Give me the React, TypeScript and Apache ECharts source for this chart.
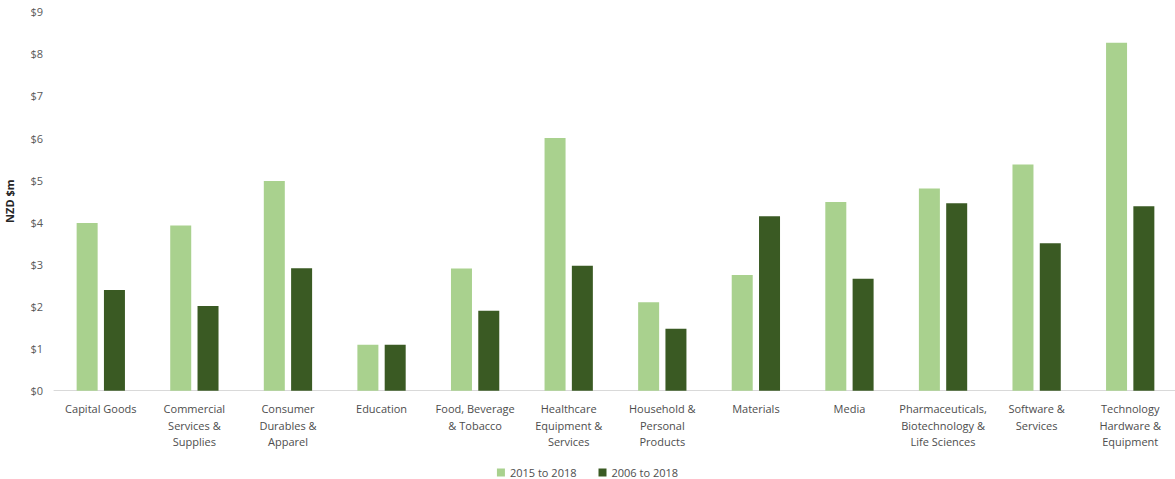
import React, { useEffect, useRef } from "react";
import * as echarts from "echarts";

const categories = [
  "Capital Goods",
  "Commercial\nServices &\nSupplies",
  "Consumer\nDurables &\nApparel",
  "Education",
  "Food, Beverage\n& Tobacco",
  "Healthcare\nEquipment &\nServices",
  "Household &\nPersonal\nProducts",
  "Materials",
  "Media",
  "Pharmaceuticals,\nBiotechnology &\nLife Sciences",
  "Software &\nServices",
  "Technology\nHardware &\nEquipment",
];

const recent = [3.98, 3.92, 4.98, 1.09, 2.9, 6.0, 2.1, 2.75, 4.48, 4.8, 5.37, 8.26];
const longRun = [2.39, 2.01, 2.91, 1.09, 1.9, 2.97, 1.47, 4.14, 2.66, 4.45, 3.5, 4.38];

const seriesNames = ["2015 to 2018", "2006 to 2018"];
const yTicks = { min: 0, max: 9, interval: 1 };

const FONT = "'Open Sans', 'Noto Sans', sans-serif";

export default function App() {
  const ref = useRef<HTMLDivElement>(null);

  useEffect(() => {
    if (!ref.current) return;
    const chart = echarts.init(ref.current, null, { renderer: "svg" });
    chart.setOption({
      animation: false,
      textStyle: { fontFamily: FONT },
      grid: {
        left: 54,
        top: 11.7,
        width: 1123,
        height: 379,
        containLabel: false,
        outerBoundsMode: "none",
      },
      legend: {
        data: seriesNames,
        top: 462,
        left: "center",
        icon: "rect",
        itemWidth: 8,
        itemHeight: 8,
        itemGap: 22,
        textStyle: { fontFamily: FONT, fontSize: 11, color: "#4d4d4d" },
      },
      xAxis: {
        type: "category",
        data: categories,
        axisLine: { lineStyle: { color: "#d9d9d9", width: 1 } },
        axisTick: { show: false },
        axisLabel: {
          interval: 0,
          margin: 10,
          fontSize: 11,
          lineHeight: 16.5,
          color: "#4d4d4d",
          fontFamily: FONT,
        },
      },
      yAxis: {
        type: "value",
        min: yTicks.min,
        max: yTicks.max,
        interval: yTicks.interval,
        name: "NZD $m",
        nameLocation: "middle",
        nameRotate: 90,
        nameGap: 39,
        nameTextStyle: { fontFamily: FONT, fontSize: 11, fontWeight: "bold", color: "#262626" },
        splitLine: { show: false },
        axisLine: { show: false },
        axisTick: { show: false },
        axisLabel: {
          formatter: (v: number) => "$" + v,
          fontSize: 11,
          color: "#595959",
          margin: 11,
          fontFamily: FONT,
        },
      },
      series: [
        {
          name: seriesNames[0],
          type: "bar",
          data: recent,
          barWidth: 21,
          barGap: "30%",
          itemStyle: { color: "#a9d18e" },
        },
        {
          name: seriesNames[1],
          type: "bar",
          data: longRun,
          barWidth: 21,
          barGap: "30%",
          itemStyle: { color: "#3a5a23" },
        },
      ],
    });
    return () => chart.dispose();
  }, []);

  return (
    <div
      ref={ref}
      style={{ position: "absolute", left: 0, top: 0, width: 1175, height: 479, background: "#ffffff" }}
    />
  );
}
